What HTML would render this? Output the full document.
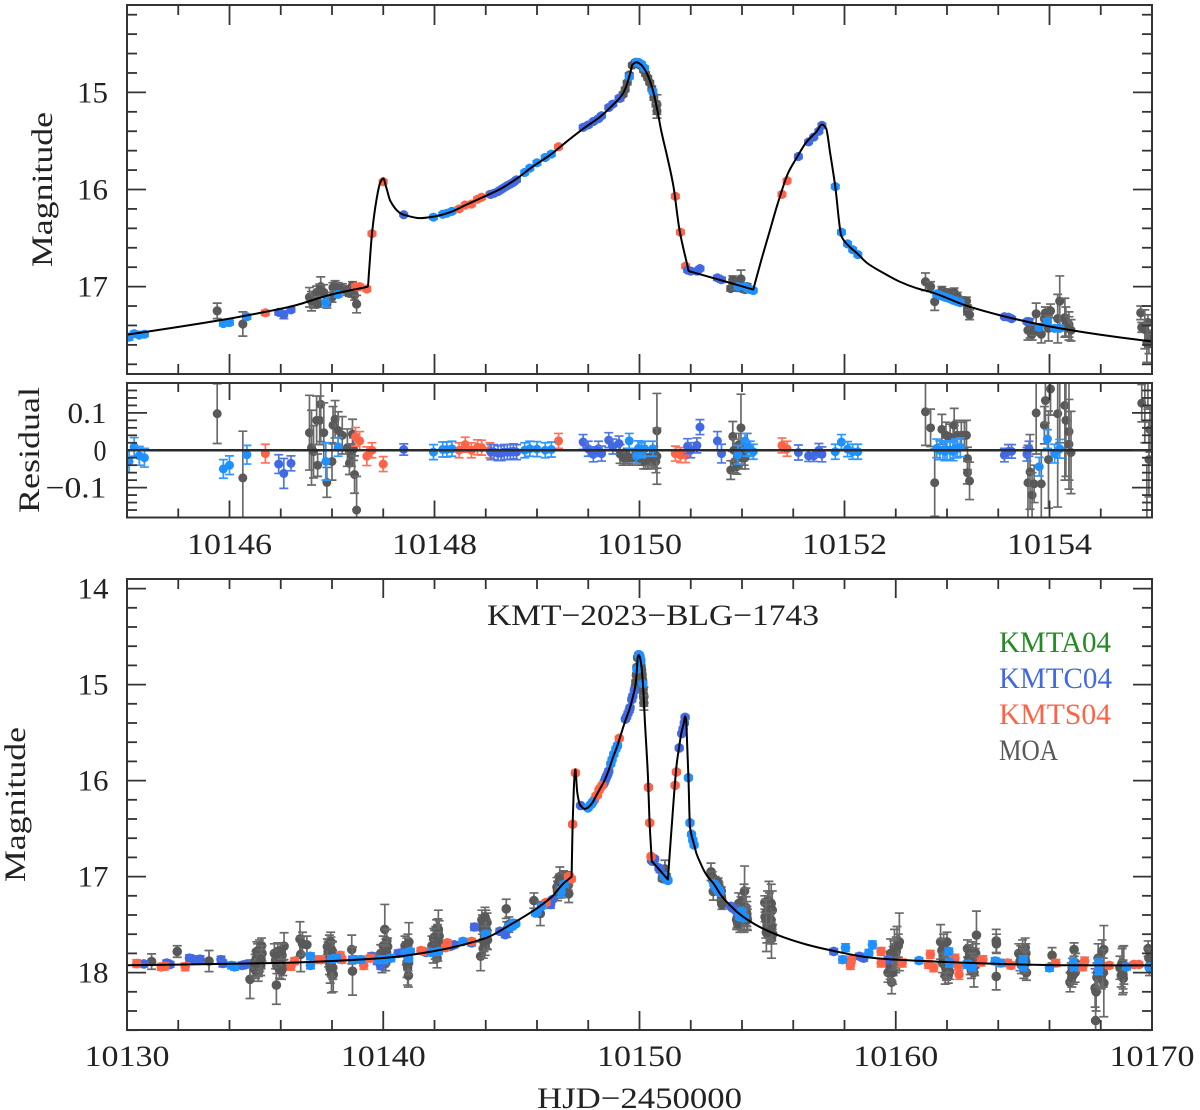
<!DOCTYPE html>
<html lang="en">
<head>
<meta charset="utf-8">
<title>KMT-2023-BLG-1743 light curve</title>
<style>
html,body{margin:0;padding:0;background:#fff;}
svg{display:block;}
text{font-family:"Liberation Serif","DejaVu Serif",serif;fill:#222;}
</style>
</head>
<body>
<svg id="chart" xmlns="http://www.w3.org/2000/svg" width="1200" height="1110" viewBox="0 0 1200 1110">
  <defs>
    <clipPath id="clip-top"><rect x="127" y="5" width="1025" height="369"/></clipPath>
    <clipPath id="clip-res"><rect x="127" y="383" width="1025" height="134.5"/></clipPath>
    <clipPath id="clip-bot"><rect x="127" y="579" width="1025" height="451"/></clipPath>
  </defs>
  <rect x="0" y="0" width="1200" height="1110" fill="#fff"/>

  <g id="top-marks" clip-path="url(#clip-top)"></g>
  <g id="res-marks" clip-path="url(#clip-res)"></g>
  <g id="bot-marks" clip-path="url(#clip-bot)"></g>
  <g id="axes"></g>

  <rect x="127" y="5" width="1025" height="369" fill="none" stroke="#333" stroke-width="2"/>
  <rect x="127" y="383" width="1025" height="134.5" fill="none" stroke="#333" stroke-width="2"/>
  <rect x="127" y="579" width="1025" height="451" fill="none" stroke="#333" stroke-width="2"/>

  <text transform="translate(52,267) rotate(-90)" font-size="30" textLength="155" lengthAdjust="spacingAndGlyphs">Magnitude</text>
  <text transform="translate(39,513) rotate(-90)" font-size="30" textLength="126" lengthAdjust="spacingAndGlyphs">Residual</text>
  <text transform="translate(25,882) rotate(-90)" font-size="30" textLength="155" lengthAdjust="spacingAndGlyphs">Magnitude</text>
  <text x="537" y="1108" font-size="30" textLength="205" lengthAdjust="spacingAndGlyphs">HJD−2450000</text>
  <text x="487" y="625" font-size="30" textLength="332" lengthAdjust="spacingAndGlyphs">KMT−2023−BLG−1743</text>

  <text x="999" y="652" font-size="30" textLength="112" lengthAdjust="spacingAndGlyphs" style="fill:#228b22">KMTA04</text>
  <text x="999" y="688" font-size="30" textLength="113" lengthAdjust="spacingAndGlyphs" style="fill:#4169e1">KMTC04</text>
  <text x="999" y="724" font-size="30" textLength="112" lengthAdjust="spacingAndGlyphs" style="fill:#ff6347">KMTS04</text>
  <text x="999" y="760" font-size="30" textLength="59" lengthAdjust="spacingAndGlyphs" style="fill:#595959">MOA</text>
</svg>

<script>
// ---- model curve ----
const modelDays = [10130,10135.8,10139.9,10141.9,10144,10145,10146,10146.35,10146.6,10147,10147.33,10147.35,10147.36,10147.39,10147.435,10147.47,10147.5,10147.53,10147.57,10147.66,10147.7,10147.86,10147.99,10148.15,10148.31,10148.47,10148.64,10148.8,10148.96,10149.13,10149.29,10149.45,10149.61,10149.74,10149.83,10149.87,10149.91,10149.93,10149.97,10150.01,10150.07,10150.13,10150.18,10150.21,10150.27,10150.33,10150.39,10150.47,10150.48,10150.5,10150.8,10151.09,10151.11,10151.12,10151.19,10151.27,10151.35,10151.45,10151.53,10151.63,10151.73,10151.78,10151.82,10151.86,10151.91,10151.97,10152.05,10152.12,10152.22,10152.38,10152.54,10152.7,10152.87,10153.19,10153.52,10154,10154.49,10155,10155.6,10156.55,10157.5,10158.9,10160,10162,10164.1,10166.8,10170];
const modelMags = [17.924,17.9,17.85,17.78,17.64,17.495,17.33,17.26,17.205,17.08,17.005,17.0,16.865,16.455,16.1,15.93,15.885,15.98,16.12,16.24,16.26,16.295,16.28,16.235,16.157,16.08,15.996,15.89,15.763,15.643,15.506,15.375,15.256,15.13,15.026,14.94,14.8,14.717,14.69,14.71,14.8,14.975,15.214,15.386,15.66,15.96,16.415,16.795,16.84,16.846,16.936,17.024,17.03,16.99,16.72,16.43,16.14,15.83,15.68,15.51,15.40,15.33,15.37,15.625,15.97,16.48,16.59,16.655,16.757,16.86,16.95,17.015,17.065,17.197,17.296,17.41,17.495,17.565,17.63,17.71,17.77,17.84,17.865,17.89,17.91,17.924,17.925];

// ---- MOA: points inside the zoom window ----
const moaWinDays = [10145.88,10146.13,10146.78,10146.8,10146.82,10146.85,10146.86,10146.89,10146.88,10146.92,10146.95,10147.0,10147.01,10147.03,10147.06,10147.1,10147.15,10147.17,10147.19,10147.2,10147.21,10147.22,10147.24,
 10149.81,10149.84,10149.86,10149.88,10149.9,10149.93,10149.96,10149.99,10150.02,10150.04,10150.06,10150.08,10150.1,10150.12,10150.14,10150.16,10150.17,10150.17,
 10150.89,10150.91,10150.93,10150.95,10150.92,10150.97,10150.99,10151.0,10151.02,10151.03,10151.05,
 10152.79,10152.84,10152.88,10152.95,10152.99,10153.03,10153.06,10153.07,10153.1,10153.14,10153.17,10153.19,10153.2,10153.2,10153.22,
 10153.79,10153.81,10153.83,10153.85,10153.87,10153.92,10153.95,10153.96,10153.99,10154.01,10154.08,10154.1,10154.15,10154.16,10154.19,10154.19,10154.21,
 10154.89,10154.9,10154.96,10154.98,10154.97,10154.93,10154.95];
const moaWinMags = [17.25,17.385,17.11,17.15,17.15,17.06,17.18,17.0,17.04,17.06,17.18,17.11,17.01,16.99,17.01,17.02,17.04,17.07,17.05,16.99,17.03,17.09,17.18,
 15.06,15.02,14.97,14.90,14.82,14.72,14.69,14.71,14.73,14.77,14.81,14.85,14.90,14.96,15.05,15.12,15.125,15.19,
 17.02,16.93,17.0,17.01,16.97,16.96,16.92,17.02,17.02,17.03,17.0,
 16.95,17.0,17.155,17.04,17.06,17.07,17.09,17.06,17.1,17.14,17.15,17.15,17.22,17.26,17.29,
 17.45,17.43,17.49,17.45,17.28,17.49,17.33,17.27,17.43,17.25,17.33,17.15,17.32,17.36,17.39,17.43,17.45,
 17.27,17.42,17.37,17.51,17.59,17.44,17.58];
const moaWinResid = [.098,-.074,.047,.007,-.004,.08,-.04,.123,.08,.047,-.086,-.03,.067,.083,.053,.04,.007,-.035,-.013,.043,.003,-.065,-.16,
 -.01,-.02,-.02,-.015,-.02,-.02,-.015,-.02,-.02,-.03,-.03,-.03,-.02,-.02,-.02,-.03,.052,-.016,
 -.053,.037,-.03,-.044,0,.015,.06,-.02,-.01,-.02,.015,
 .103,.06,-.087,.056,.04,.035,.03,.067,.04,.04,.04,.04,-.022,-.06,-.082,
 -.087,-.058,-.12,-.09,.1,-.09,.067,.133,-.025,.164,.098,.28,.12,.08,.05,.016,-.006,
 .28,.126,.19,.055,-.025,.22,-.24];
const moaWinErrs = [.08,.125,.1,.1,.07,.065,.03,.1,.065,.08,.04,.05,.05,.05,.05,.05,.05,.03,.03,.04,.03,.05,.09,
 .025,.02,.02,.02,.02,.02,.02,.02,.02,.02,.02,.02,.02,.025,.03,.03,.1,.075,
 .025,.04,.03,.02,.03,.03,.09,.03,.03,.03,.03,
 .09,.05,.09,.04,.035,.035,.035,.045,.04,.035,.04,.04,.03,.03,.05,
 .1,.1,.06,.05,.11,.09,.05,.06,.13,.07,.25,.26,.2,.15,.13,.12,.11,
 .07,.05,.08,.06,.1,.2,.2];

// ---- MOA: baseline points outside the zoom window ----
const moaOutDays = [10130.96,10131.96,10133.2,10134.8,
 10134.95,10135.0,10135.02,10135.05,10135.08,10135.1,10135.12,10135.15,10135.17,10135.2,10135.22,10135.25,10135.27,
 10135.03,10135.07,10135.13,10135.18,10135.23,
 10135.83,10135.75,10135.8,10135.85,10135.9,10135.95,10136.0,10136.05,10136.08,10136.13,
 10135.88,10135.97,10136.02,10136.03,
 10136.75,10136.78,10136.85,10137.02,
 10137.82,10137.85,10137.87,10137.9,10137.9,10137.93,10137.93,10137.96,10137.98,10138.0,10138.05,
 10137.88,10137.95,10137.97,10138.02,10138.03,
 10138.77,10138.8,
 10139.9,10139.95,10140.0,10140.03,10140.06,10140.1,10140.14,10140.17,10140.1,
 10140.02,10140.08,10140.12,
 10140.85,10140.9,10140.93,10140.95,10140.98,10141.0,10140.97,
 10140.92,10140.96,10140.99,
 10141.9,10141.95,10142.0,10142.02,10142.05,10142.08,10142.1,10142.13,10142.15,10142.18,
 10141.97,10142.03,10142.07,10142.12,10142.16,
 10143.8,10143.85,10143.9,10143.95,10144.0,10144.03,10144.05,10143.98,10143.9,
 10143.87,10143.93,10144.02,10144.07,10143.97,
 10144.8,10144.82,10144.9,
 10155.0,10155.03,10155.05,10155.08,10155.1,10155.12,10155.15,10155.18,10155.2,
 10155.02,10155.07,10155.09,10155.13,10155.16,10155.14,
 10159.7,10159.75,10159.8,10159.84,10159.85,10159.9,10159.95,10160.0,10160.05,10160.14,
 10159.78,10159.88,10159.92,10160.02,10160.1,
 10161.75,10161.8,10161.85,10161.9,10161.93,10162.0,10161.98,10162.05,10162.1,
 10161.83,10161.95,10162.03,10161.87,
 10162.8,10162.85,10162.9,10162.95,10163.0,10163.05,10163.1,10163.15,10163.12,
 10162.88,10162.98,10163.08,
 10163.92,10163.93,10163.92,
 10164.8,10164.85,10164.9,10164.95,10165.0,10165.05,10165.1,10165.08,
 10164.88,10164.98,10165.03,10165.07,
 10166.1,
 10166.8,10166.85,10166.9,10166.96,10167.0,10167.02,
 10166.87,10166.93,
 10167.78,10167.8,10167.85,10167.9,10167.95,10168.0,10168.05,10168.12,10168.12,10168.1,
 10167.82,10167.88,10168.02,10168.07,
 10168.75,10168.8,10168.85,10168.88,10168.9,
 10168.83,10168.87,
 10169.85,10169.88,10169.9,10169.95];
const moaOutMags = [17.885,17.78,17.88,18.07,
 17.95,17.9,17.98,17.85,17.93,17.8,18.0,17.88,17.76,17.83,17.93,17.72,17.8,
 17.87,17.78,17.95,17.9,17.86,
 18.13,17.8,17.87,17.93,17.84,17.97,17.9,17.82,17.95,17.725,
 17.78,17.86,17.78,17.98,
 17.65,17.81,17.7,17.71,
 17.73,17.78,17.84,17.71,17.9,17.8,17.96,17.75,18.02,17.86,18.02,
 17.76,17.68,17.92,17.78,17.95,
 17.76,17.985,
 17.8,17.9,17.72,17.85,17.55,17.75,17.67,17.73,17.9,
 17.8,17.82,17.78,
 17.72,17.8,17.9,17.95,18.03,17.68,17.85,
 17.76,17.7,17.9,
 17.72,17.78,17.66,17.7,17.62,17.55,17.85,17.66,17.55,17.62,
 17.64,17.76,17.72,17.6,17.68,
 17.83,17.45,17.55,17.62,17.45,17.6,17.48,17.72,17.75,
 17.5,17.68,17.55,17.66,17.42,
 17.336,17.55,17.5,
 17.3,17.38,17.25,17.45,17.5,17.58,17.65,17.35,17.6,
 17.42,17.32,17.55,17.45,17.52,17.28,
 18.0,17.9,17.8,18.1,17.97,17.88,17.75,17.85,17.72,17.68,
 17.95,18.0,17.82,17.78,17.72,
 17.68,17.77,17.83,17.92,18.03,17.68,17.98,18.03,17.99,
 17.9,17.95,17.92,17.72,
 17.75,17.85,17.92,17.98,17.78,18.0,17.85,17.61,17.8,
 17.8,17.9,17.93,
 17.67,17.7,18.04,
 17.8,17.88,17.92,17.76,17.98,17.74,18.0,17.8,
 17.82,17.85,17.92,17.88,
 17.82,
 18.1,18.0,17.95,17.76,18.0,17.9,
 18.05,18.02,
 18.16,18.5,18.05,17.85,18.0,17.95,17.78,17.76,18.11,18.0,
 18.2,18.0,18.05,18.0,
 17.95,18.03,17.98,18.06,17.92,
 17.9,18.02,
 17.75,17.85,17.95,17.88];
const moaOutErrs = [.08,.06,.11,.2,
 .08,.09,.08,.09,.1,.1,.09,.09,.1,.09,.1,.08,.08,
 .09,.1,.09,.09,.1,
 .2,.1,.09,.08,.09,.09,.09,.09,.08,.14,
 .09,.09,.08,.09,
 .18,.18,.12,.09,
 .08,.1,.1,.1,.12,.1,.15,.12,.19,.19,.18,
 .1,.1,.12,.1,.12,
 .15,.25,
 .09,.1,.1,.09,.26,.1,.12,.09,.08,
 .09,.1,.1,
 .1,.12,.15,.18,.12,.2,.13,
 .12,.1,.12,
 .1,.12,.1,.1,.1,.1,.1,.22,.2,.16,
 .1,.1,.1,.1,.1,
 .15,.1,.12,.1,.1,.15,.1,.1,.1,
 .1,.1,.1,.1,.1,
 .1,.08,.08,
 .15,.15,.2,.15,.12,.12,.2,.2,.1,
 .15,.15,.15,.15,.15,.2,
 .1,.12,.15,.12,.12,.15,.2,.15,.2,.3,
 .12,.12,.15,.15,.12,
 .18,.12,.1,.12,.09,.1,.1,.08,.08,
 .1,.1,.08,.12,
 .09,.09,.1,.08,.1,.15,.1,.25,.1,
 .09,.1,.1,
 .12,.1,.14,
 .1,.1,.09,.1,.08,.1,.08,.1,
 .1,.1,.09,.1,
 .08,
 .1,.1,.1,.07,.1,.1,
 .1,.1,
 .2,.3,.15,.15,.1,.12,.12,.25,.35,.15,
 .2,.15,.12,.15,
 .12,.12,.25,.15,.2,
 .15,.15,
 .08,.1,.08,.08];

// ---- KMTC04 (royal blue) ----
const kmtcWinDays = [10146.48,10146.53,10146.6,10147.7,
 10148.55,10148.58,10148.62,10148.65,10148.68,10148.71,10148.74,10148.77,10148.8,
 10149.45,10149.5,10149.55,10149.6,10149.63,10149.7,10149.74,10149.8,
 10150.47,10150.5,10150.56,10150.59,10150.76,10150.8,
 10151.55,10151.65,10151.7,10151.75,10151.78,
 10153.56,10153.6,10153.63,10153.78,10153.8];
const kmtcWinMags = [17.265,17.29,17.24,16.26,
 16.05,16.04,16.02,16.0,15.98,15.96,15.945,15.925,15.9,
 15.36,15.335,15.30,15.27,15.24,15.155,15.12,15.06,
 16.83,16.84,16.84,16.815,16.91,16.93,
 15.66,15.51,15.46,15.40,15.34,
 17.31,17.315,17.33,17.36,17.36];
const kmtcWinResid = [-.037,-.062,-.035,.002,
 -.005,-.005,-.008,-.008,-.005,-.005,-.005,-.003,-.005,
 .022,.004,-.011,.004,-.009,.027,.01,.018,
 .011,0,.013,.062,.025,-.009,
 -.006,-.015,-.015,0,-.011,
 -.013,-.003,-.003,-.011,.004];
const kmtcWinErrs = [.025,.04,.02,.015,
 .02,.02,.02,.02,.02,.02,.02,.02,.02,
 .02,.02,.02,.02,.02,.02,.02,.02,
 .02,.02,.02,.02,.025,.025,
 .02,.015,.015,.018,.02,
 .018,.018,.018,.018,.02];
const kmtcOutDays = [10130.66,10131.55,10131.68,10132.44,10132.64,10132.85,10133.67,10133.74,10134.49,10134.63,10138.8,10138.9,10139.55,10139.76,10139.9,10140.58,10140.7,10141.67,10142.63,10142.77,10143.56,10143.45,10144.55,10144.76,10157.58,10158.58,10158.75,10159.7];
const kmtcOutMags = [17.91,17.9,17.915,17.85,17.865,17.86,17.865,17.905,17.925,17.915,17.865,17.865,17.83,17.88,17.93,17.8,17.795,17.79,17.725,17.71,17.525,17.69,17.57,17.605,17.78,17.83,17.85,17.865];
const kmtcOutErrs = [.03,.03,.03,.035,.035,.035,.035,.035,.035,.035,.035,.035,.035,.035,.035,.035,.035,.03,.03,.03,.035,.03,.03,.03,.03,.03,.03,.03];

// ---- KMTS04 (tomato) ----
const kmtsWinDays = [10146.35,10147.23,10147.27,10147.34,10147.39,10147.5,10148.24,10148.3,10148.36,10148.42,10148.46,10148.54,10149.21,10150.35,10150.4,10150.45,10151.39,10151.44];
const kmtsWinMags = [17.27,17.0,17.0,17.025,16.455,15.92,16.2,16.16,16.15,16.1,16.08,16.05,15.56,16.07,16.44,16.79,16.05,15.91];
const kmtsWinResid = [-.009,.036,.025,-.016,0,-.037,0,.015,0,.008,.007,0,.025,-.009,-.013,-.013,.013,.004];
const kmtsWinErrs = [.025,.025,.025,.025,.02,.02,.02,.02,.02,.02,.02,.02,.02,.02,.02,.02,.02,.02];
const kmtsOutDays = [10130.38,10131.34,10131.48,10132.27,10136.4,10136.54,10137.43,10137.57,10138.32,10138.39,10139.24,10139.49,10141.47,10141.6,10142.5,10142.43,10143.45,10158.27,10158.23,10159.43,10159.43,10160.25,10161.35,10161.28,10161.48,10162.31,10162.44,10162.47,10163.4,10163.33,10164.36,10164.5,10166.25,10167.37,10167.3,10168.33,10169.29,10169.49];
const kmtsOutMags = [17.906,17.94,17.935,17.94,17.935,17.88,17.865,17.865,17.82,17.865,17.925,17.85,17.77,17.78,17.69,17.74,17.675,17.865,17.925,17.78,17.9,17.9,17.81,17.915,17.95,17.85,17.935,18.02,17.865,17.89,17.9,17.925,17.9,17.88,17.94,17.925,17.915,17.915];
const kmtsOutErrs = [.04,.035,.035,.04,.04,.035,.035,.035,.035,.035,.04,.035,.03,.03,.03,.03,.03,.035,.04,.04,.04,.04,.04,.04,.04,.04,.04,.05,.04,.04,.035,.035,.035,.04,.04,.03,.025,.025];

// ---- KMTA04 (dodger blue) ----
const kmtaWinDays = [10145.02,10145.07,10145.12,10145.17,10145.94,10146.0,10146.17,10146.94,10147.06,
 10147.99,10148.08,10148.12,10148.17,10148.88,10148.93,10149.0,10149.08,10149.14,
 10149.9,10149.97,10149.99,10150.02,10150.05,10150.13,
 10150.96,10151.03,10151.05,10151.08,10151.11,
 10151.91,10151.97,10152.03,10152.08,10152.13,
 10152.9,10152.93,10152.96,10152.98,10153.0,10153.03,10153.06,10153.08,10153.1,10153.13,
 10153.9,10153.98,10154.05,10154.1];
const kmtaWinMags = [17.52,17.485,17.5,17.49,17.38,17.37,17.31,17.16,17.08,
 16.285,16.255,16.245,16.225,15.825,15.78,15.725,15.67,15.635,
 14.84,14.69,14.69,14.71,14.75,14.99,
 17.0,17.0,17.02,17.03,17.04,
 15.97,16.44,16.56,16.62,16.67,
 17.075,17.09,17.1,17.11,17.115,17.125,17.14,17.145,17.155,17.165,
 17.42,17.36,17.43,17.43];
const kmtaWinResid = [-.03,.009,-.015,-.02,-.05,-.04,-.012,-.03,.009,
 -.005,.002,.002,.004,0,.004,.003,0,.002,
 .025,-.015,.005,0,.004,.004,
 -.012,.025,.004,.004,-.004,
 -.004,.022,.003,-.004,-.004,
 .005,0,0,-.003,0,0,-.003,.005,.005,.008,
 -.044,.03,-.009,.004];
const kmtaWinErrs = [.03,.025,.025,.025,.025,.025,.025,.05,.025,
 .02,.02,.02,.02,.02,.02,.02,.02,.02,
 .02,.02,.02,.02,.02,.02,
 .025,.02,.02,.02,.02,
 .02,.02,.02,.02,.02,
 .025,.025,.025,.025,.025,.025,.025,.025,.025,.025,
 .025,.025,.025,.025];
const kmtaOutDays = [10134.08,10134.2,10137.16,10137.16,10137.98,10138.18,10138.87,10139.14,10139.83,10140.03,10140.3,10140.85,10141.06,10140.99,10141.88,10142.15,10143.11,10144.0,10144.9,
 10157.93,10158.04,10158.95,10159.09,10160.91,10162.07,10162.1,10162.79,10162.99,10163.88,10164.09,10164.97,10164.97,10166.0,10166.93,10166.96,10167.92,10167.92,10169.01,10169.9];
const kmtaOutMags = [17.925,17.94,17.83,17.925,17.86,17.85,17.865,17.865,17.865,17.865,17.85,17.8,17.78,17.85,17.79,17.78,17.675,17.6,17.52,
 17.865,17.74,17.795,17.71,17.875,17.78,17.9,17.915,17.94,17.88,17.9,17.865,17.94,17.95,17.9,17.94,17.9,17.975,17.94,17.94];
const kmtaOutErrs = [.035,.035,.035,.035,.035,.035,.035,.035,.035,.035,.035,.03,.03,.035,.03,.03,.03,.03,.03,
 .035,.04,.035,.04,.03,.035,.04,.04,.04,.035,.035,.04,.04,.035,.04,.04,.04,.045,.03,.03];

// ---- tick labels ----
const resXTickLabels = ["10146","10148","10150","10152","10154"];
const botXTickLabels = ["10130","10140","10150","10160","10170"];
const topYTickLabels = ["15","16","17"];
const resYTickLabels = ["0.1","0","−0.1"];
const resYTickValues = [0.1,0,-0.1];
const botYTickLabels = ["14","15","16","17","18"];

// ---- axis functions ----
const xTop = d => 127 + (d - 10145) * 102.5;
const yTop = m => 5 + (m - 14.1) * (369 / 3.8);
const yRes = r => 383 + (0.18 - r) * (134.5 / 0.36);
const xBot = d => 127 + (d - 10130) * 25.625;
const yBot = m => 579 + (m - 13.9) * 96;

const NS = 'http://www.w3.org/2000/svg';
const topMarks = document.getElementById('top-marks');
const resMarks = document.getElementById('res-marks');
const botMarks = document.getElementById('bot-marks');
const axes = document.getElementById('axes');

function drawPoints(parent, seriesName, color, barColor, days, vals, errs, xf, yf, r) {
  for (let i = 0; i < days.length; i++) {
    const cx = xf(days[i]);
    const cy = yf(vals[i]);
    const top = yf(vals[i] - errs[i] * Math.sign(yf(1) - yf(0)));
    const bottom = yf(vals[i] + errs[i] * Math.sign(yf(1) - yf(0)));
    const bar = document.createElementNS(NS, 'path');
    bar.setAttribute('d', 'M' + (cx - 4.5) + ' ' + top + 'H' + (cx + 4.5) + 'M' + cx + ' ' + top + 'V' + bottom + 'M' + (cx - 4.5) + ' ' + bottom + 'H' + (cx + 4.5));
    bar.setAttribute('fill', 'none');
    bar.setAttribute('stroke', barColor);
    bar.setAttribute('stroke-width', '1.7');
    
    
    parent.appendChild(bar);
    const dot = document.createElementNS(NS, 'circle');
    dot.setAttribute('cx', cx);
    dot.setAttribute('cy', cy);
    dot.setAttribute('r', r);
    dot.setAttribute('fill', color);
    
    
    parent.appendChild(dot);
  }
}

// monotone cubic path through the model nodes, so the curve stays smooth without overshooting
function drawModel(parent, name, xf, yf, width) {
  const xs = modelDays.map(xf);
  const ys = modelMags.map(yf);
  const n = xs.length;
  const sec = [];
  for (let i = 0; i < n - 1; i++) {
    sec.push((ys[i + 1] - ys[i]) / (xs[i + 1] - xs[i]));
  }
  const tan = [];
  for (let i = 0; i < n; i++) {
    if (i === 0) { tan.push(sec[0]); continue; }
    if (i === n - 1) { tan.push(sec[n - 2]); continue; }
    const a = sec[i - 1];
    const b = sec[i];
    tan.push(a * b <= 0 ? 0 : 2 * a * b / (a + b));
  }
  let d = 'M' + xs[0] + ' ' + ys[0];
  for (let i = 0; i < n - 1; i++) {
    const h = (xs[i + 1] - xs[i]) / 3;
    d += 'C' + (xs[i] + h) + ' ' + (ys[i] + tan[i] * h) + ' ' + (xs[i + 1] - h) + ' ' + (ys[i + 1] - tan[i + 1] * h) + ' ' + xs[i + 1] + ' ' + ys[i + 1];
  }
  const line = document.createElementNS(NS, 'path');
  line.setAttribute('d', d);
  line.setAttribute('fill', 'none');
  line.setAttribute('stroke', '#000');
  line.setAttribute('stroke-width', width);
  line.setAttribute('stroke-linejoin', 'round');
  
  
  parent.appendChild(line);
}

const MOA = ['#595959', '#6a6a6a'];
const KMTC = ['#4169e1', '#4f76e6'];
const KMTS = ['#ff6347', '#ff7059'];
const KMTA = ['#1e90ff', '#2f98ff'];

// zoomed magnitude panel
drawPoints(topMarks, 'moa', MOA[0], MOA[1], moaWinDays, moaWinMags, moaWinErrs, xTop, yTop, 4.6);
drawPoints(topMarks, 'kmts', KMTS[0], KMTS[1], kmtsWinDays, kmtsWinMags, kmtsWinErrs, xTop, yTop, 4.6);
drawPoints(topMarks, 'kmtc', KMTC[0], KMTC[1], kmtcWinDays, kmtcWinMags, kmtcWinErrs, xTop, yTop, 4.6);
drawPoints(topMarks, 'kmta', KMTA[0], KMTA[1], kmtaWinDays, kmtaWinMags, kmtaWinErrs, xTop, yTop, 4.6);
drawModel(topMarks, 'zoomed-model-curve', xTop, yTop, 2);

// residual panel
drawPoints(resMarks, 'moa-residual', MOA[0], MOA[1], moaWinDays, moaWinResid, moaWinErrs, xTop, yRes, 4.5);
drawPoints(resMarks, 'kmts-residual', KMTS[0], KMTS[1], kmtsWinDays, kmtsWinResid, kmtsWinErrs, xTop, yRes, 4.5);
drawPoints(resMarks, 'kmtc-residual', KMTC[0], KMTC[1], kmtcWinDays, kmtcWinResid, kmtcWinErrs, xTop, yRes, 4.5);
drawPoints(resMarks, 'kmta-residual', KMTA[0], KMTA[1], kmtaWinDays, kmtaWinResid, kmtaWinErrs, xTop, yRes, 4.5);
const zeroLine = document.createElementNS(NS, 'line');
zeroLine.setAttribute('x1', 127);
zeroLine.setAttribute('x2', 1152);
zeroLine.setAttribute('y1', yRes(0));
zeroLine.setAttribute('y2', yRes(0));
zeroLine.setAttribute('stroke', '#2a2a2a');
zeroLine.setAttribute('stroke-width', '2.4');


resMarks.appendChild(zeroLine);

// full magnitude panel
drawPoints(botMarks, 'moa', MOA[0], MOA[1], moaOutDays, moaOutMags, moaOutErrs, xBot, yBot, 4.8);
drawPoints(botMarks, 'moa', MOA[0], MOA[1], moaWinDays, moaWinMags, moaWinErrs, xBot, yBot, 4.8);
drawPoints(botMarks, 'kmtc', KMTC[0], KMTC[1], kmtcOutDays, kmtcOutMags, kmtcOutErrs, xBot, yBot, 4.8);
drawPoints(botMarks, 'kmtc', KMTC[0], KMTC[1], kmtcWinDays, kmtcWinMags, kmtcWinErrs, xBot, yBot, 4.8);
drawPoints(botMarks, 'kmts', KMTS[0], KMTS[1], kmtsOutDays, kmtsOutMags, kmtsOutErrs, xBot, yBot, 4.8);
drawPoints(botMarks, 'kmts', KMTS[0], KMTS[1], kmtsWinDays, kmtsWinMags, kmtsWinErrs, xBot, yBot, 4.8);
drawPoints(botMarks, 'kmta', KMTA[0], KMTA[1], kmtaOutDays, kmtaOutMags, kmtaOutErrs, xBot, yBot, 4.8);
drawPoints(botMarks, 'kmta', KMTA[0], KMTA[1], kmtaWinDays, kmtaWinMags, kmtaWinErrs, xBot, yBot, 4.8);
drawModel(botMarks, 'full-model-curve', xBot, yBot, 2);

// ---- ticks and tick labels ----
function tick(x1, y1, x2, y2, name) {
  const t = document.createElementNS(NS, 'line');
  t.setAttribute('x1', x1);
  t.setAttribute('y1', y1);
  t.setAttribute('x2', x2);
  t.setAttribute('y2', y2);
  t.setAttribute('stroke', '#333');
  t.setAttribute('stroke-width', '1.8');
  
  
  axes.appendChild(t);
}
function label(str, x, y, len, name) {
  const t = document.createElementNS(NS, 'text');
  t.textContent = str;
  t.setAttribute('x', x);
  t.setAttribute('y', y);
  t.setAttribute('font-size', '30');
  t.setAttribute('textLength', len);
  t.setAttribute('lengthAdjust', 'spacingAndGlyphs');
  
  
  axes.appendChild(t);
}
function xTicks(xf, from, to, step, majorEvery, yTopEdge, yBottomEdge, majLen, minLen) {
  const n = Math.round((to - from) / step);
  for (let i = 0; i <= n; i++) {
    const d = from + i * step;
    const major = Math.abs(d / majorEvery - Math.round(d / majorEvery)) < 1e-6;
    const len = major ? majLen : minLen;
    tick(xf(d), yTopEdge, xf(d), yTopEdge + len, 'x-tick-top');
    tick(xf(d), yBottomEdge, xf(d), yBottomEdge - len, 'x-tick-bottom');
  }
}
function yTicks(yf, from, to, step, majorEvery, majLen, minLen) {
  const n = Math.round((to - from) / step);
  for (let i = 0; i <= n; i++) {
    const v = from + i * step;
    const major = Math.abs(v / majorEvery - Math.round(v / majorEvery)) < 1e-6;
    const len = major ? majLen : minLen;
    tick(127, yf(v), 127 + len, yf(v), 'y-tick-left');
    tick(1152, yf(v), 1152 - len, yf(v), 'y-tick-right');
  }
}
xTicks(xTop, 10145, 10155, 0.5, 2, 5, 374, 20, 10);
yTicks(yTop, 14.2, 17.8, 0.2, 1, 19, 10);
xTicks(xTop, 10145, 10155, 0.5, 2, 383, 517.5, 17, 9);
yTicks(yRes, -0.16, 0.16, 0.02, 0.1, 20, 10);
xTicks(xBot, 10130, 10170, 2, 10, 579, 1030, 19, 10);
yTicks(yBot, 14, 18.6, 0.2, 1, 19, 10);

topYTickLabels.forEach(s => {
  label(s, 77, yTop(Number(s)) + 10, 31, 'zoomed-y-tick-label');
});
resYTickLabels.forEach((s, i) => {
  const y = yRes(resYTickValues[i]) + 10;
  const len = s.length === 1 ? 13 : (s.length === 3 ? 39 : 61);
  label(s, 106.5 - len, y, len, 'residual-y-tick-label');
});
botYTickLabels.forEach(s => {
  label(s, 77.5, yBot(Number(s)) + 10, 31, 'full-y-tick-label');
});
resXTickLabels.forEach(s => {
  label(s, xTop(Number(s)) - 42.5, 554, 85, 'residual-x-tick-label');
});
botXTickLabels.forEach(s => {
  label(s, xBot(Number(s)) - 42.5, 1066, 85, 'full-x-tick-label');
});
</script>
</body>
</html>
